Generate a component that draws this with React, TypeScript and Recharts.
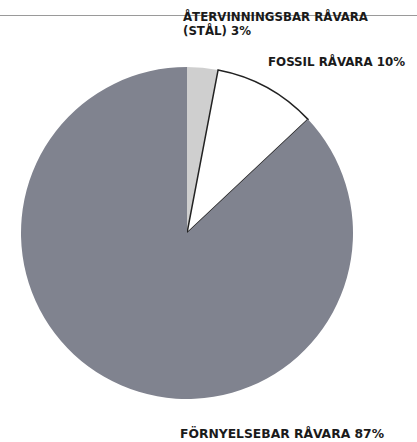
import { PieChart, Pie, Cell } from "recharts"

const categories = ["ÅTERVINNINGSBAR RÅVARA", "FOSSIL RÅVARA", "FÖRNYELSEBAR RÅVARA"]
const shares = [3, 10, 87]
const COLORS = ["#cfcfcf", "#ffffff", "#80838f"]

const data = categories.map((name, i) => ({ name, value: shares[i] }))

const FONT = "'Liberation Sans Narrow', 'DejaVu Sans Condensed', sans-serif"

function renderLabel(props: any) {
  const { cx, cy, outerRadius, index } = props
  const common = {
    fontFamily: FONT,
    fontWeight: 700,
    fill: "#1a1a1a",
    lengthAdjust: "spacingAndGlyphs" as const,
  }
  if (index === 0) {
    return (
      <g>
        <text x={cx - 4} y={cy - outerRadius - 46} textLength={185} fontSize={12} {...common}>
          {categories[0]}
        </text>
        <text x={cx - 4} y={cy - outerRadius - 32} textLength={68} fontSize={12} {...common}>
          {`(STÅL) ${shares[0]}%`}
        </text>
      </g>
    )
  }
  if (index === 1) {
    return (
      <text x={cx + 81} y={cy - outerRadius - 1} textLength={137} fontSize={12} {...common}>
        {`${categories[1]} ${shares[1]}%`}
      </text>
    )
  }
  return (
    <text x={cx - 7} y={cy + outerRadius + 39} textLength={204} fontSize={13} {...common}>
      {`${categories[2]} ${shares[2]}%`}
    </text>
  )
}

export default function App() {
  return (
    <div style={{ position: "absolute", left: 0, top: 0, width: 417, height: 442, background: "#fff" }}>
      <div style={{ position: "absolute", left: 0, top: 15, width: 417, borderTop: "1px solid #9a9a9a" }} />
      <div style={{ position: "absolute", left: 0, top: 0 }}>
        <PieChart width={417} height={442}>
          <Pie
            data={data}
            dataKey="value"
            cx={182}
            cy={228}
            outerRadius={166}
            startAngle={90}
            endAngle={-270}
            labelLine={false}
            label={renderLabel}
            isAnimationActive={false}
          >
            {data.map((entry, index) => (
              <Cell
                key={`cell-${index}`}
                fill={COLORS[index]}
                stroke={index === 1 ? "#222" : "none"}
                strokeWidth={index === 1 ? 1.5 : 0}
              />
            ))}
          </Pie>
        </PieChart>
      </div>
    </div>
  )
}
